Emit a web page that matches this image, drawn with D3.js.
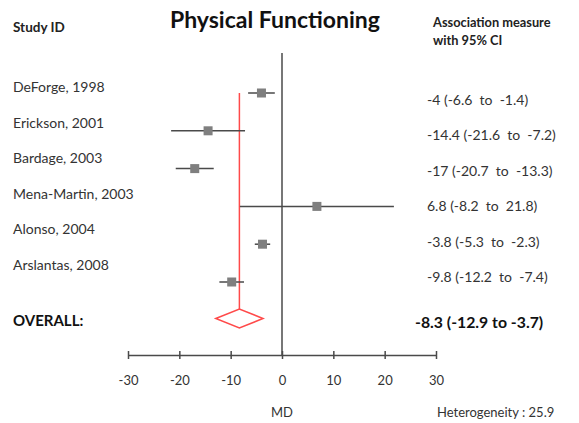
<!DOCTYPE html>
<html>
<head>
<meta charset="utf-8">
<script src="https://cdn.jsdelivr.net/npm/d3@7"></script>
<style>
  body { margin: 0; background: #fff; }
  svg { display: block; font-family: Lato, "Open Sans", sans-serif; }
</style>
</head>
<body>
<svg id="chart" width="579" height="423"></svg>
<script>
const studies = ["DeForge, 1998", "Erickson, 2001", "Bardage, 2003", "Mena-Martin, 2003", "Alonso, 2004", "Arslantas, 2008"];
const estimates = [-4, -14.4, -17, 6.8, -3.8, -9.8];
const lowerCI = [-6.6, -21.6, -20.7, -8.2, -5.3, -12.2];
const upperCI = [-1.4, -7.2, -13.3, 21.8, -2.3, -7.4];
const valueLabels = ["-4 (-6.6  to  -1.4)", "-14.4 (-21.6  to  -7.2)", "-17 (-20.7  to  -13.3)", "6.8 (-8.2  to  21.8)", "-3.8 (-5.3  to  -2.3)", "-9.8 (-12.2  to  -7.4)"];
const overall = { est: -8.3, lo: -12.9, hi: -3.7, label: "-8.3 (-12.9 to -3.7)" };
const ticks = [-30, -20, -10, 0, 10, 20, 30];
const heterogeneity = "Heterogeneity : 25.9";

const svg = d3.select("#chart");
const x = d3.scaleLinear().domain([-30, 30]).range([128, 436]);
const idx = d3.range(studies.length);
const yMark = d3.scaleLinear().domain([0, 5]).range([93, 282]);
const yLabel = d3.scaleLinear().domain([0, 5]).range([92, 270]);
const yValue = d3.scaleLinear().domain([0, 5]).range([105, 282]);
const yAxis = 355;
const yOverall = 318.5;
const textCol = "#333";
const red = "#ff4a4a";
const dark = "#4a4a4a";

// header
svg.append("text").attr("x", 13).attr("y", 32).attr("font-size", 13.5).attr("font-weight", "bold").attr("fill", "#222").text("Study ID");
svg.append("text").attr("x", 275).attr("y", 28).attr("text-anchor", "middle").attr("font-size", 23).attr("font-weight", "bold").attr("fill", "#111").text("Physical Functioning");
svg.append("text").attr("x", 433).attr("y", 27).attr("font-size", 12.8).attr("font-weight", "bold").attr("fill", "#222").text("Association measure");
svg.append("text").attr("x", 433).attr("y", 45).attr("font-size", 12.8).attr("font-weight", "bold").attr("fill", "#222").text("with 95% CI");

// zero line
svg.append("line").attr("x1", x(0)).attr("x2", x(0)).attr("y1", 53).attr("y2", yAxis)
  .attr("stroke", dark).attr("stroke-width", 1.5);

const dh = 9.5;
// overall red line
svg.append("line").attr("x1", x(overall.est)).attr("x2", x(overall.est)).attr("y1", yMark(0)).attr("y2", yOverall - dh)
  .attr("stroke", red).attr("stroke-width", 1.5);

// study labels
svg.selectAll("text.study").data(idx).join("text").attr("class", "study")
  .attr("x", 13).attr("y", i => yLabel(i)).attr("font-size", 14).attr("fill", textCol).text(i => studies[i]);

// CI lines
svg.selectAll("line.ci").data(idx).join("line").attr("class", "ci")
  .attr("x1", i => x(lowerCI[i])).attr("x2", i => x(upperCI[i]))
  .attr("y1", i => yMark(i)).attr("y2", i => yMark(i))
  .attr("stroke", dark).attr("stroke-width", 1.5);

// squares
const sq = 9;
svg.selectAll("rect.pt").data(idx).join("rect").attr("class", "pt")
  .attr("x", i => x(estimates[i]) - sq / 2).attr("y", i => yMark(i) - sq / 2)
  .attr("width", sq).attr("height", sq).attr("fill", "#7f7f7f");

// values
svg.selectAll("text.val").data(idx).join("text").attr("class", "val")
  .attr("x", 427).attr("y", i => yValue(i)).attr("font-size", 14).attr("fill", textCol)
  .style("white-space", "pre").text(i => valueLabels[i]);

// overall
svg.append("text").attr("x", 13).attr("y", 326).attr("font-size", 15).attr("font-weight", "bold").attr("fill", "#111").text("OVERALL:");
svg.append("path")
  .attr("d", `M${x(overall.lo)},${yOverall} L${x(overall.est)},${yOverall - dh} L${x(overall.hi)},${yOverall} L${x(overall.est)},${yOverall + dh} Z`)
  .attr("fill", "#fff").attr("stroke", red).attr("stroke-width", 1.5);
svg.append("text").attr("x", 415).attr("y", 328).attr("font-size", 15.8).attr("font-weight", "bold").attr("fill", "#111").text(overall.label);

// axis
const axis = d3.axisBottom(x).tickValues(ticks).tickFormat(d => String(d)).tickSize(0).tickPadding(0);
const gAxis = svg.append("g").attr("transform", `translate(0,${yAxis})`).call(axis);
gAxis.select(".domain").attr("stroke", dark).attr("stroke-width", 1.5);
gAxis.selectAll(".tick line").attr("y1", -4).attr("y2", 4).attr("stroke", dark).attr("stroke-width", 1.5);
gAxis.selectAll(".tick text").attr("y", 30).attr("dy", 0).attr("font-size", 13).attr("font-family", "Lato, sans-serif").attr("fill", textCol);

svg.append("text").attr("x", x(0)).attr("y", 417).attr("text-anchor", "middle").attr("font-size", 13).attr("fill", textCol).text("MD");
svg.append("text").attr("x", 437).attr("y", 417).attr("font-size", 13).attr("fill", textCol).text(heterogeneity);
</script>
</body>
</html>
